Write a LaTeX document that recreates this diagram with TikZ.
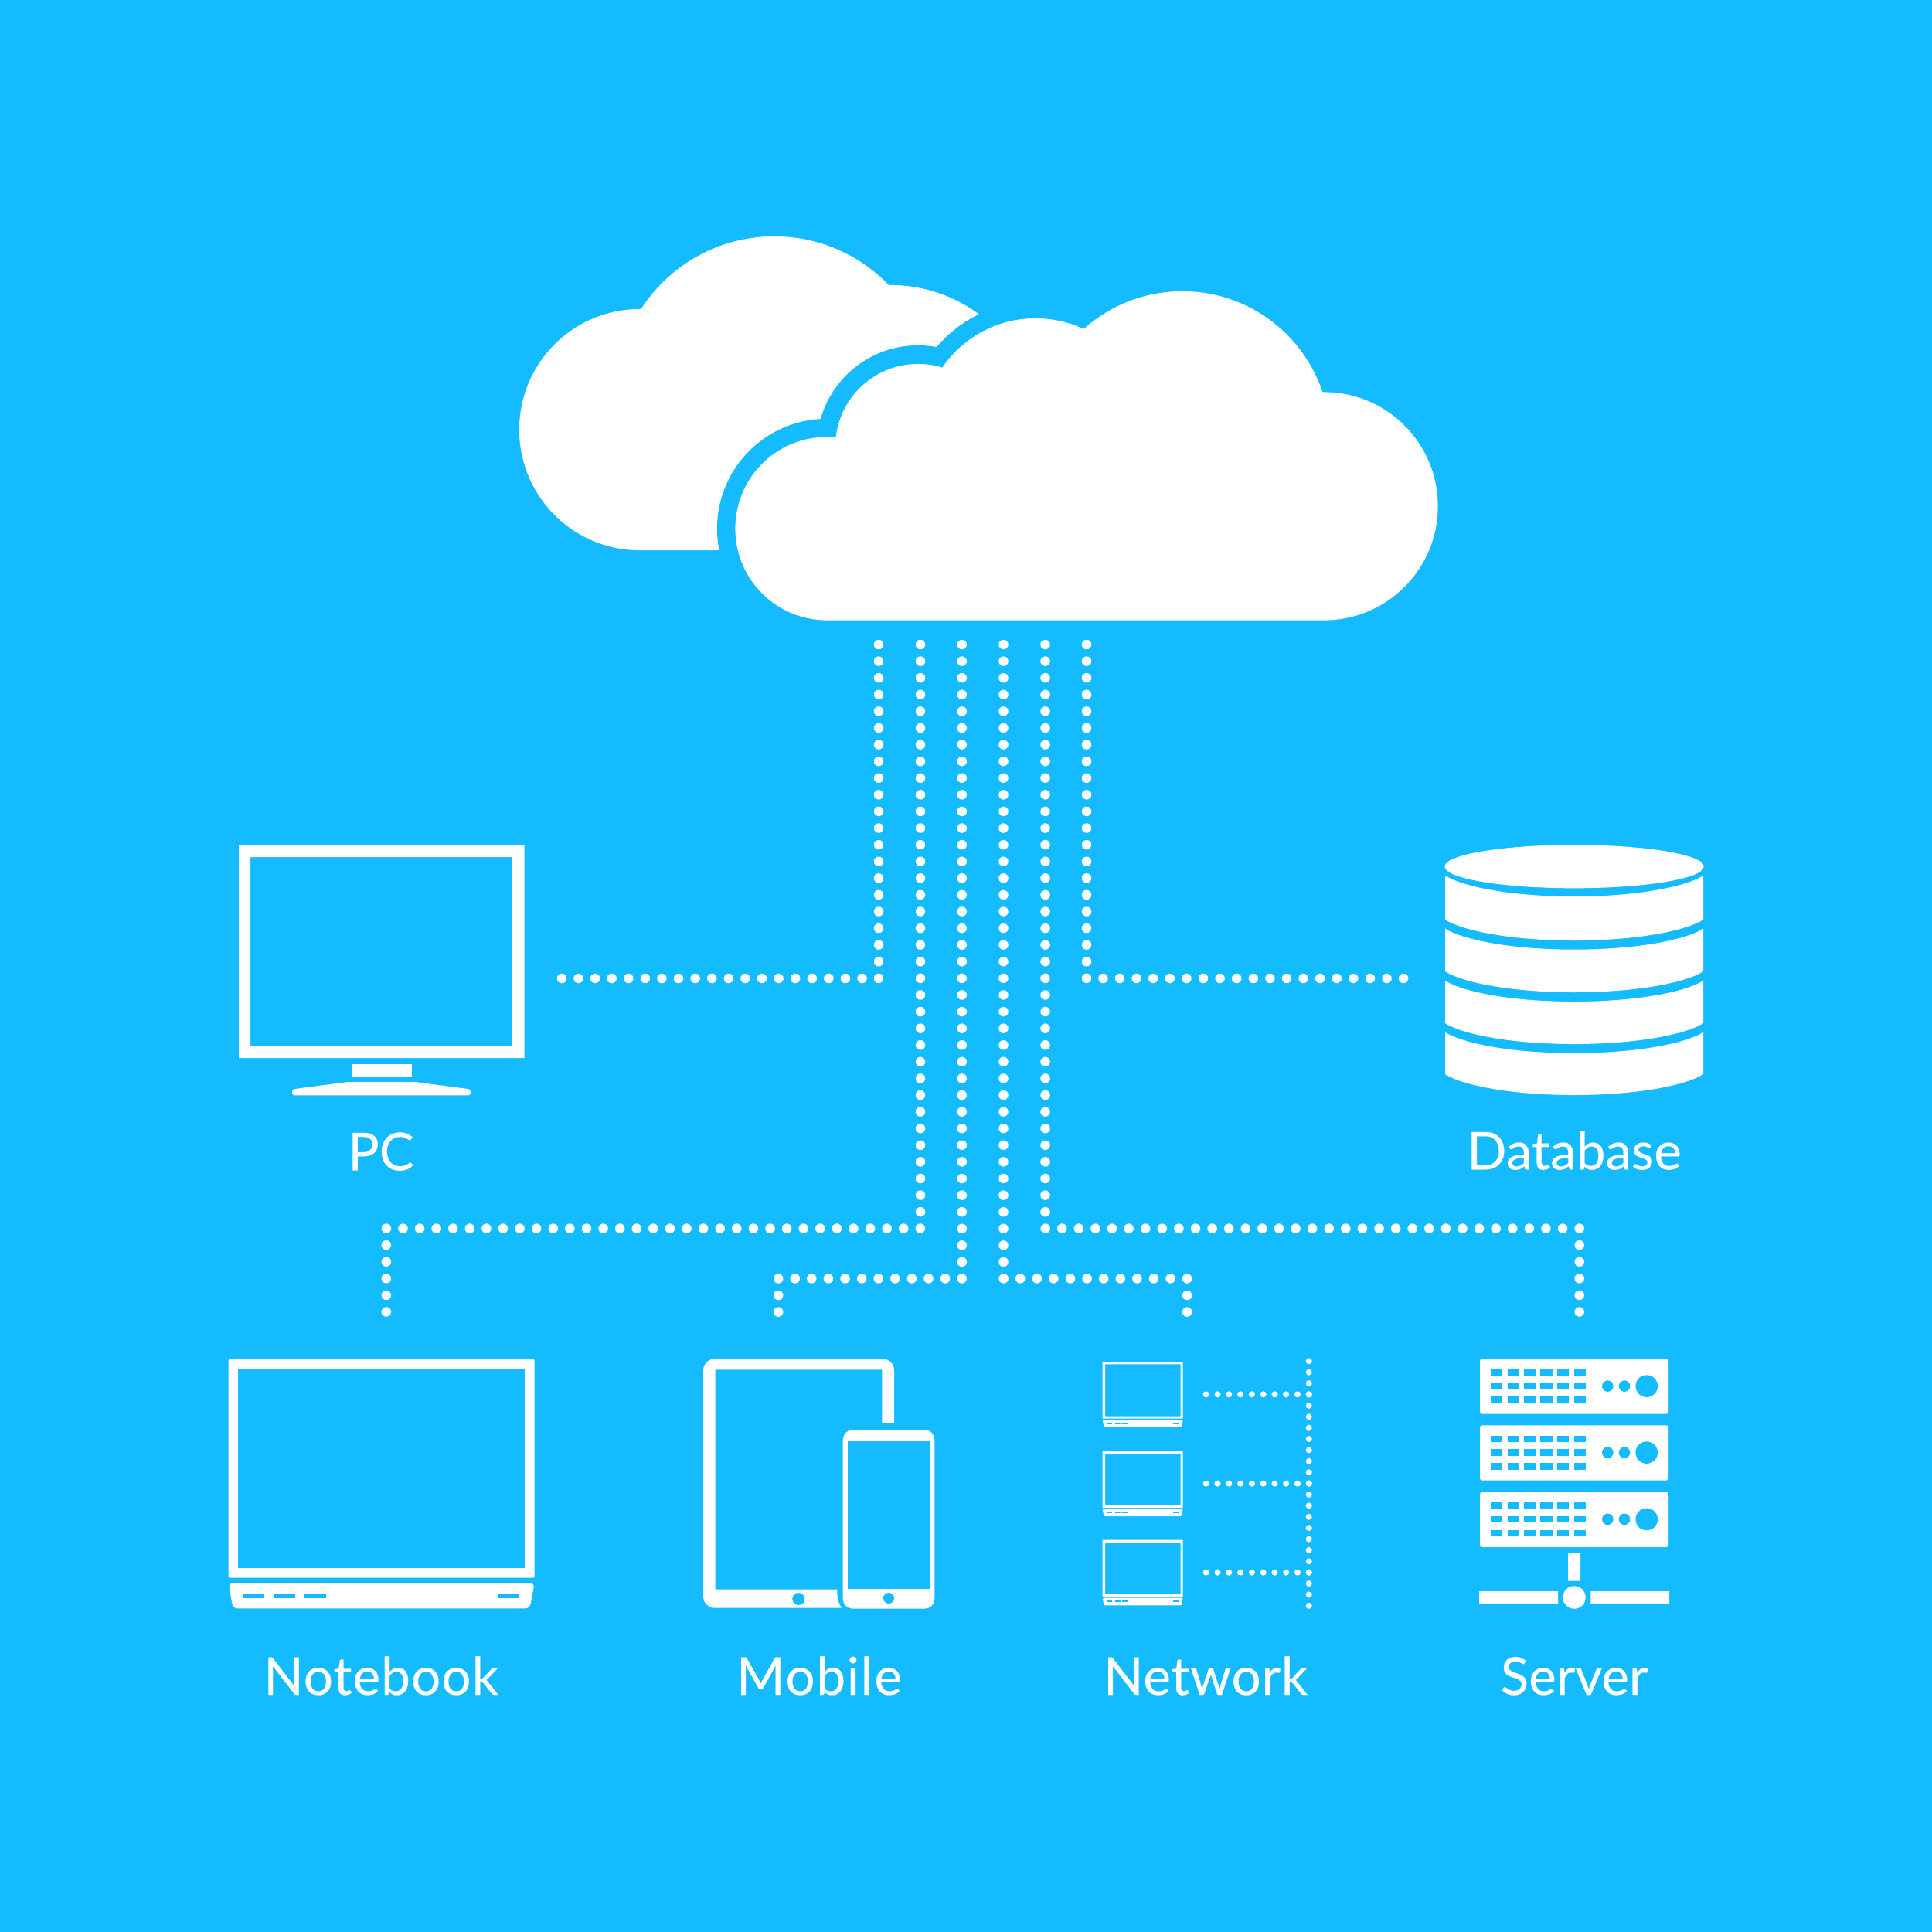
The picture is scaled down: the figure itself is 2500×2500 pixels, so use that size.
\documentclass[tikz,border=0pt]{standalone}
\usepackage{fontspec}
\setmainfont{Lato}[FakeBold=0.25]
\definecolor{skybg}{HTML}{14BBFF}
\tikzset{
  bigdots/.style={draw=white,line width=.125cm,line cap=round,dash pattern=on 0pt off .2158cm},
  smalldots/.style={draw=white,line width=.08cm,line cap=round,dash pattern=on 0pt off .1438cm},
  icon/.style={fill=white,even odd rule},
  cutout/.style={fill=skybg},
  label/.style={text=white,anchor=base,inner sep=0pt,font=\fontsize{19.2}{23}\selectfont}
}
\begin{document}
\begin{tikzpicture}[x=.01cm,y=-.01cm]
\fill[skybg] (0,0) rectangle (2500,2500);
\useasboundingbox (0,0) rectangle (2500,2500);
% back cloud
\fill[white] (828,556) circle[radius=1.56cm] (1002,511) circle[radius=2.05cm] (1152,562) circle[radius=1.93cm]
  (828,712) -- (1300,712) -- (1265,407) -- (1152,369) -- (832,400) -- cycle;
% halo of the front cloud
\fill[skybg] (1070,684) circle[radius=1.42cm] (1188,578) circle[radius=1.31cm] (1340,558) circle[radius=1.68cm] (1530,568) circle[radius=2.14cm];
% front cloud
\fill[white] (1070,684) circle[radius=1.185cm] (1188,578) circle[radius=1.07cm] (1340,558) circle[radius=1.46cm]
  (1530,568) circle[radius=1.91cm] (1713,655) circle[radius=1.475cm]
  (1070,802.5) -- (1713,802.5) -- (1709,507) -- (1404,426) -- (1224,477) -- (1081,566) -- cycle;
% connector ends
\coordinate (pcS) at (1137,834); \coordinate (pcK) at (1137,1266); \coordinate (pcE) at (722,1266);
\coordinate (dbS) at (1406,834); \coordinate (dbK) at (1406,1266); \coordinate (dbE) at (1821,1266);
\coordinate (nbS) at (1191,834); \coordinate (nbK) at (1191,1589.6); \coordinate (nbL) at (499.8,1589.6); \coordinate (nbE) at (499.8,1703);
\coordinate (srS) at (1352.5,834); \coordinate (srK) at (1352.5,1589.6); \coordinate (srL) at (2043.7,1589.6); \coordinate (srE) at (2043.7,1703);
\coordinate (mbS) at (1244.8,834); \coordinate (mbK) at (1244.8,1654.4); \coordinate (mbL) at (1007.2,1654.4); \coordinate (mbE) at (1007.2,1703);
\coordinate (nwS) at (1298.5,834); \coordinate (nwK) at (1298.5,1654.4); \coordinate (nwL) at (1536.1,1654.4); \coordinate (nwE) at (1536.1,1703);
\draw[bigdots] (pcS) -- (pcK) -- (pcE);
\draw[bigdots] (dbS) -- (dbK) -- (dbE);
\draw[bigdots] (nbS) -- (nbK) -- (nbL) -- (nbE);
\draw[bigdots] (srS) -- (srK) -- (srL) -- (srE);
\draw[bigdots] (mbS) -- (mbK) -- (mbL) -- (mbE);
\draw[bigdots] (nwS) -- (nwK) -- (nwL) -- (nwE);
% PC
\fill[icon] (309,1094) rectangle (678.5,1369) (324,1109) rectangle (663,1354);
\fill[white] (455,1376.7) rectangle (532.7,1393.3);
\fill[white,rounded corners=.03cm] (450,1400) -- (537.3,1400) -- (609,1409.5) -- (609,1417.3) -- (378,1417.3) -- (378,1409.5) -- cycle;
% Database
\fill[white] (2037,1121.3) ellipse[x radius=1.675cm,y radius=.28cm];
\foreach \t/\b in {1133/1190,1201.7/1257,1269/1324,1335.7/1390}{
  \fill[white] (1870,\t) .. controls (1890,\t+13) and (1950,\t+27) .. (2037,\t+27) .. controls (2124,\t+27) and (2184,\t+13) .. (2204,\t)
    -- (2204,\b) .. controls (2184,\b+13) and (2124,\b+27) .. (2037,\b+27) .. controls (1950,\b+27) and (1890,\b+13) .. (1870,\b) -- cycle;
}
% Notebook
\fill[icon,rounded corners=.02cm] (295.7,1758.6) rectangle (691.7,2041.7);
\fill[cutout] (308.3,1771) rectangle (679,2029.3);
\fill[white,rounded corners=.06cm] (295.7,2048.3) -- (691.7,2048.3) -- (685.5,2081.3) -- (301.5,2081.3) -- cycle;
\foreach \a/\e in {315/341.7,354/381.7,394/421.7,645/671.7}{\fill[cutout] (\a,2061.7) rectangle (\e,2068.3);}
% Tablet and phone
\fill[white] (1157,1841.7) [rounded corners=.15cm] -- (1157,1758.3) -- (910,1758.3) -- (910,2080.7) [sharp corners] -- (1089,2080.7)
  .. controls (1084,2073) and (1083.3,2066) .. (1083.3,2056.7) -- (925.7,2056.7) -- (925.7,1772.3) -- (1141.3,1772.3) -- (1141.3,1841.7) -- cycle;
\fill[cutout] (1033.3,2069) circle[radius=.08cm];
\fill[white,rounded corners=.13cm] (1090.7,1850) rectangle (1209.3,2081.7);
\fill[cutout] (1097.3,1865) rectangle (1203.3,2055.7);
\fill[cutout] (1150,2068) circle[radius=.07cm];
% Network
\foreach \d in {0,115.5,230.7}{
  \fill[icon] (1426.7,1762+\d) rectangle (1530.7,1835.7+\d) (1430,1765.3+\d) rectangle (1527.5,1832.5+\d);
  \fill[white,rounded corners=.015cm] (1426.7,1837+\d) -- (1530.7,1837+\d) -- (1529,1846.7+\d) -- (1428.4,1846.7+\d) -- cycle;
  \foreach \a/\e in {1431.7/1439.3,1442.7/1450.3,1452.3/1460,1518.3/1526}{\fill[cutout] (\a,1840.7+\d) rectangle (\e,1842.7+\d);}
}
\coordinate (nwT) at (1693.7,1761.3); \coordinate (nwB) at (1693.7,2082);
\draw[smalldots] (nwT) -- (nwB);
\coordinate (nwA) at (1560.7,1804.3); \coordinate (nwAe) at (1697,1804.3);
\coordinate (nwC) at (1560.7,1919.7); \coordinate (nwCe) at (1697,1919.7);
\coordinate (nwD) at (1560.7,2034.7); \coordinate (nwDe) at (1697,2034.7);
\draw[smalldots,dash pattern=on 0pt off .1478cm] (nwA) -- (nwAe);
\draw[smalldots,dash pattern=on 0pt off .1478cm] (nwC) -- (nwCe);
\draw[smalldots,dash pattern=on 0pt off .1478cm] (nwD) -- (nwDe);
% Server
\foreach \o in {0,86,172.3}{
  \fill[white,rounded corners=.03cm] (1915,1758.3+\o) rectangle (2159,1829.7+\o);
  \foreach \s in {1929,1950.7,1971.7,1993.3,2015,2036.7}{
    \foreach \r in {1771.6,1789.3,1807.3}{\fill[cutout] (\s,\r+\o) rectangle (\s+15.3,\r+8.5+\o);}
  }
  \fill[cutout] (2080.3,1793.6+\o) circle[radius=.073cm] (2102,1793.6+\o) circle[radius=.073cm] (2130.7,1793.6+\o) circle[radius=.143cm];
}
\fill[white] (2029,2009.3) rectangle (2045,2045.7) (1914,2059) rectangle (2016,2075) (2058.3,2059) rectangle (2160,2075);
\fill[white] (2037,2067) circle[radius=.147cm];
% Labels
\node[label] (lpc) at (493,1514.3) {PC};
\node[label] (ldb) at (2037,1513.3) {Database};
\node[label] (lnb) at (493,2193) {\addfontfeature{LetterSpace=1.5}Notebook};
\node[label] (lmb) at (1060,2193) {\addfontfeature{LetterSpace=2.5}Mobile};
\node[label] (lnw) at (1560,2193) {\addfontfeature{LetterSpace=1}Network};
\node[label] (lsr) at (2037,2193) {Server};
\end{tikzpicture}
\end{document}
